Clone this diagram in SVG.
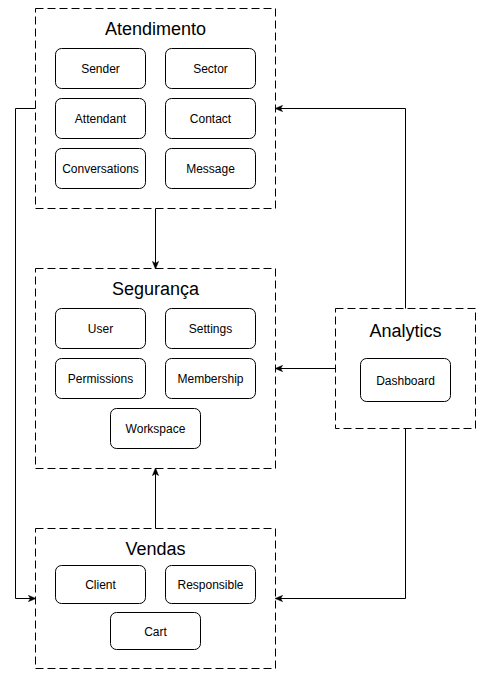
<svg xmlns="http://www.w3.org/2000/svg" width="484" height="677" viewBox="0 0 484 677">
<defs>
<style>
.grp{fill:#fff;stroke:#000;stroke-width:1;stroke-dasharray:8 4}
.node{fill:#fff;stroke:#000;stroke-width:1}
.title{font-family:"Liberation Sans",Arial,sans-serif;font-size:18px;fill:#000;text-anchor:middle}
.lbl{font-family:"Liberation Sans",Arial,sans-serif;font-size:12px;fill:#000;text-anchor:middle}
.edge{fill:none;stroke:#000;stroke-width:1;marker-end:url(#arr)}
</style>
<marker id="arr" viewBox="0 0 10 10" refX="9" refY="5" markerWidth="8" markerHeight="8" markerUnits="userSpaceOnUse" orient="auto">
<path d="M0,1 L10,5 L0,9 L2.5,5 Z" fill="#000" stroke="#000" stroke-width="0.5"/>
</marker>
</defs>
<rect width="484" height="677" fill="#fff"/>

<g id="atendimento">
<rect class="grp" x="35.5" y="8.5" width="240" height="200"/>
<text class="title" x="155.5" y="35">Atendimento</text>
</g>
<g id="sender"><rect class="node" x="55.5" y="48.5" width="90" height="40" rx="6"/><text class="lbl" x="100.5" y="73">Sender</text></g>
<g id="sector"><rect class="node" x="165.5" y="48.5" width="90" height="40" rx="6"/><text class="lbl" x="210.5" y="73">Sector</text></g>
<g id="attendant"><rect class="node" x="55.5" y="98.5" width="90" height="40" rx="6"/><text class="lbl" x="100.5" y="123">Attendant</text></g>
<g id="contact"><rect class="node" x="165.5" y="98.5" width="90" height="40" rx="6"/><text class="lbl" x="210.5" y="123">Contact</text></g>
<g id="conversations"><rect class="node" x="55.5" y="148.5" width="90" height="40" rx="6"/><text class="lbl" x="100.5" y="173">Conversations</text></g>
<g id="message"><rect class="node" x="165.5" y="148.5" width="90" height="40" rx="6"/><text class="lbl" x="210.5" y="173">Message</text></g>

<g id="seguranca">
<rect class="grp" x="35.5" y="268.5" width="240" height="200"/>
<text class="title" x="155.5" y="295">Segurança</text>
</g>
<g id="user"><rect class="node" x="55.5" y="308.5" width="90" height="40" rx="6"/><text class="lbl" x="100.5" y="333">User</text></g>
<g id="settings"><rect class="node" x="165.5" y="308.5" width="90" height="40" rx="6"/><text class="lbl" x="210.5" y="333">Settings</text></g>
<g id="permissions"><rect class="node" x="55.5" y="358.5" width="90" height="40" rx="6"/><text class="lbl" x="100.5" y="383">Permissions</text></g>
<g id="membership"><rect class="node" x="165.5" y="358.5" width="90" height="40" rx="6"/><text class="lbl" x="210.5" y="383">Membership</text></g>
<g id="workspace"><rect class="node" x="110.5" y="408.5" width="90" height="40" rx="6"/><text class="lbl" x="155.5" y="433">Workspace</text></g>

<g id="vendas">
<rect class="grp" x="35.5" y="528.5" width="240" height="140"/>
<text class="title" x="155.5" y="554.5">Vendas</text>
</g>
<g id="client"><rect class="node" x="55.5" y="565.5" width="90" height="38" rx="6"/><text class="lbl" x="100.5" y="589">Client</text></g>
<g id="responsible"><rect class="node" x="165.5" y="565.5" width="90" height="38" rx="6"/><text class="lbl" x="210.5" y="589">Responsible</text></g>
<g id="cart"><rect class="node" x="110.5" y="612.5" width="90" height="37" rx="6"/><text class="lbl" x="155.5" y="636">Cart</text></g>

<g id="analytics">
<rect class="grp" x="335.5" y="308.5" width="140" height="120"/>
<text class="title" x="405.5" y="337">Analytics</text>
</g>
<g id="dashboard"><rect class="node" x="360.5" y="358.5" width="90" height="43" rx="6"/><text class="lbl" x="405.5" y="385">Dashboard</text></g>

<g id="connectors">
<path class="edge" d="M155.5,208.5 L155.5,268.5"/>
<path class="edge" d="M155.5,528.5 L155.5,468.5"/>
<path class="edge" d="M35.5,108.5 L15.5,108.5 L15.5,598.5 L35.5,598.5"/>
<path class="edge" d="M405.5,308.5 L405.5,108.5 L275.5,108.5"/>
<path class="edge" d="M335.5,368.5 L275.5,368.5"/>
<path class="edge" d="M405.5,428.5 L405.5,598.5 L275.5,598.5"/>
</g>
</svg>
